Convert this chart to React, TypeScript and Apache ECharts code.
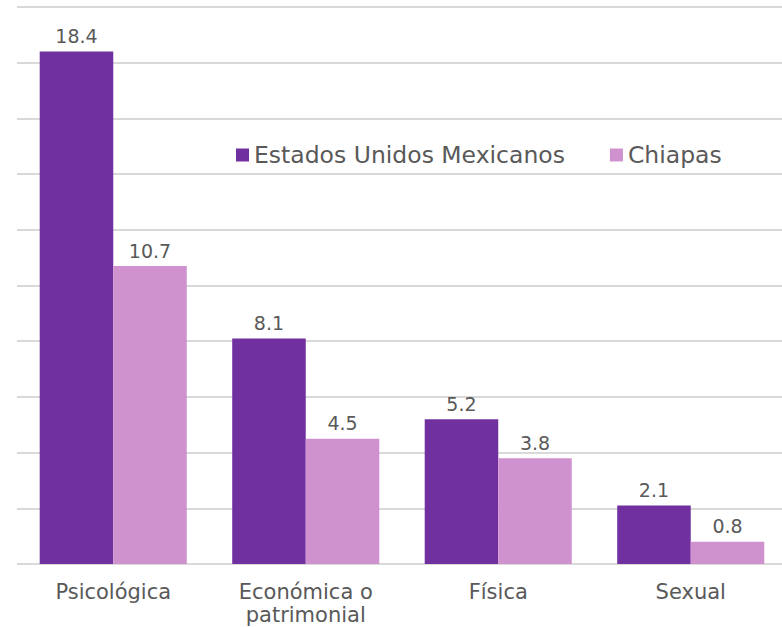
import React, { useEffect, useRef } from "react";
import * as echarts from "echarts";

const categories = ["Psicológica", "Económica o\npatrimonial", "Física", "Sexual"];
const seriesNames = ["Estados Unidos Mexicanos", "Chiapas"];
const mexicoValues = [18.4, 8.1, 5.2, 2.1];
const chiapasValues = [10.7, 4.5, 3.8, 0.8];

const FONT = "'DejaVu Sans', sans-serif";
const TEXT = "#595959";

export default function App() {
  const ref = useRef<HTMLDivElement>(null);
  useEffect(() => {
    if (!ref.current) return;
    const chart = echarts.init(ref.current, null, { renderer: "svg" });
    const label = {
      show: true,
      position: "top",
      distance: 6,
      fontSize: 19,
      color: TEXT,
      fontFamily: FONT,
      formatter: (p: any) => p.value.toFixed(1),
    };
    chart.setOption({
      animation: false,
      backgroundColor: "#ffffff",
      textStyle: { fontFamily: FONT },
      legend: {
        left: 236,
        top: 143,
        padding: 0,
        itemWidth: 13,
        itemHeight: 13,
        itemGap: 45,
        icon: "rect",
        textStyle: { fontSize: 23.5, color: TEXT, fontFamily: FONT },
        data: seriesNames,
      },
      grid: {
        left: 17,
        width: 770,
        top: 7,
        bottom: 63,
        containLabel: false,
        outerBoundsMode: "none",
      },
      xAxis: {
        type: "category",
        data: categories,
        axisLine: { show: false },
        axisTick: { show: false },
        axisLabel: {
          fontSize: 21,
          color: TEXT,
          fontFamily: FONT,
          lineHeight: 23,
          margin: 16,
          interval: 0,
        },
      },
      yAxis: {
        type: "value",
        min: 0,
        max: 20,
        interval: 2,
        axisLabel: { show: false },
        axisLine: { show: false },
        axisTick: { show: false },
        splitLine: { lineStyle: { color: "#D9D9D9", width: 2 } },
      },
      series: [
        {
          name: seriesNames[0],
          type: "bar",
          data: mexicoValues,
          barGap: "0%",
          barCategoryGap: "23.6%",
          itemStyle: { color: "#70309F" },
          label,
        },
        {
          name: seriesNames[1],
          type: "bar",
          data: chiapasValues,
          barGap: "0%",
          barCategoryGap: "23.6%",
          itemStyle: { color: "#D092CE" },
          label,
        },
      ],
    });
    return () => chart.dispose();
  }, []);
  return (
    <div
      ref={ref}
      style={{ position: "fixed", left: 0, top: 0, width: 782, height: 627, background: "#fff" }}
    />
  );
}
